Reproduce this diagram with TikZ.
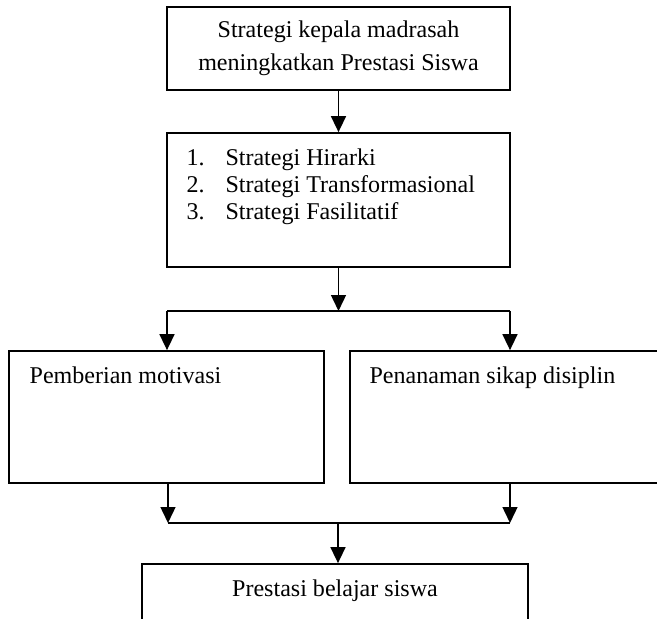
\documentclass[tikz,border=0pt]{standalone}
\usepackage{fontspec}
\setmainfont{Liberation Serif}
\usetikzlibrary{positioning,arrows.meta}
\newcommand{\px}{0.47pt}

\begin{document}
\begin{tikzpicture}[
			x=\px, y=-\px,
			box/.style={rectangle, draw, line width=0.8pt, inner sep=0pt, font=\fontsize{11.3}{15.5}\selectfont, align=center},
			txt/.style={inner sep=0pt, font=\fontsize{11.3}{12.7}\selectfont, align=left},
			wire/.style={line width=0.8pt},
			arr/.style={wire, -{Triangle[width=7pt,length=7.5pt]}},
		]
		\useasboundingbox (0,0) rectangle (657,619);
		\clip (0,0) rectangle (657,619);

		\node[box, minimum width=343*\px, minimum height=83*\px]  (top)   at (338.5,48.5) {Strategi kepala madrasah\\meningkatkan Prestasi Siswa};
		\node[box, minimum width=343*\px, minimum height=134*\px] (strat) at (338.5,200)  {};
		\node[box, minimum width=315*\px, minimum height=132*\px] (motiv) at (166.5,417)  {};
		\node[box, minimum width=330*\px, minimum height=132*\px] (disip) at (515,417)    {};
		\node[box, minimum width=386*\px, minimum height=86*\px]  (hasil) at (335,607)    {};

		\node[txt] (strattxt) [below right=7.5pt and 9.4pt of strat.north west] {\makebox[18.3pt][l]{1.}Strategi Hirarki\\\makebox[18.3pt][l]{2.}Strategi Transformasional\\\makebox[18.3pt][l]{3.}Strategi Fasilitatif};
		\node[txt] (motivtxt) [below right=7.5pt and 9.9pt of motiv.north west] {Pemberian motivasi};
		\node[txt] (disiptxt) [below right=7.5pt and 9.4pt of disip.north west] {Penanaman sikap disiplin};
		\node[txt] (hasiltxt) [below=7.5pt of hasil.north] {Prestasi belajar siswa};

		\coordinate (fork)  at (338.5,311);
		\coordinate (forkL) at (167,311);
		\coordinate (forkR) at (510,311);
		\coordinate (join)  at (338,523);
		\coordinate (joinL) at (168,523);
		\coordinate (joinR) at (510,523);

		\draw[arr] (top) -- (strat);
		\draw[arr] (strat) -- (fork);
		\draw[wire] (forkL) -- (forkR);
		\draw[arr] (forkL) -- (forkL |- motiv.north);
		\draw[arr] (forkR) -- (forkR |- disip.north);

		\draw[arr] (joinL |- motiv.south) -- (joinL);
		\draw[arr] (joinR |- disip.south) -- (joinR);
		\draw[wire] (joinL) -- (joinR);
		\draw[arr] (join) -- (join |- hasil.north);

		\end{tikzpicture}
\end{document}
